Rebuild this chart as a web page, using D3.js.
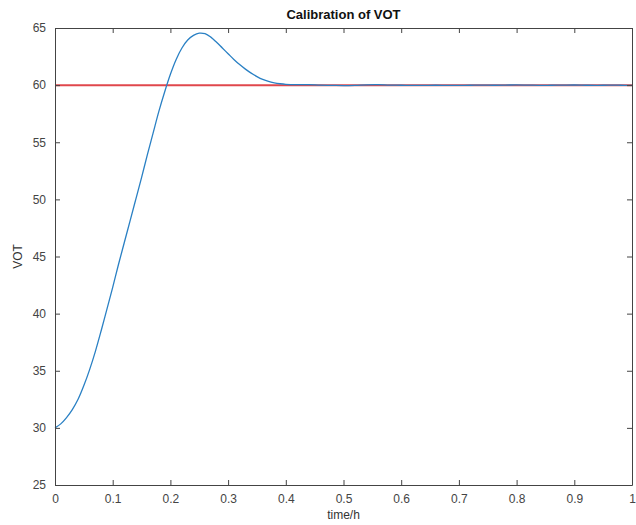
<!DOCTYPE html>
<html><head><meta charset="utf-8">
<script src="https://cdn.jsdelivr.net/npm/d3@7"></script>
<style>body{margin:0;background:#fff;}svg{display:block;}text{font-family:"Liberation Sans",Arial,sans-serif;}</style>
</head><body>
<script>
const timeH = [0,0.01,0.02,0.03,0.04,0.05,0.06,0.07,0.08,0.09,0.10,0.11,0.12,0.13,0.14,0.15,0.16,0.17,0.18,0.19,0.20,0.21,0.22,0.23,0.24,0.25,0.26,0.27,0.28,0.29,0.30,0.31,0.32,0.33,0.34,0.35,0.36,0.37,0.38,0.39,0.40,0.42,0.44,0.46,0.48,0.50,0.52,0.54,0.56,0.58,0.60,0.62,0.64,0.66,0.68,0.70,0.72,0.74,0.76,0.78,0.80,0.82,0.84,0.86,0.88,0.90,0.92,0.94,0.96,0.98,1.00];
const vot = [30.0,30.35,30.9,31.6,32.5,33.7,35.1,36.7,38.5,40.4,42.3,44.3,46.2,48.1,50.0,51.9,53.9,55.8,57.7,59.4,60.95,62.25,63.25,63.95,64.35,64.55,64.5,64.2,63.75,63.25,62.75,62.25,61.8,61.4,61.05,60.75,60.5,60.32,60.2,60.12,60.07,60.04,60.04,60.0,59.98,59.96,59.98,60.03,60.04,60.0,59.99,59.97,59.98,59.99,59.98,59.98,59.99,60.0,59.99,60.0,60.02,60.0,59.98,59.99,60.0,60.01,59.99,59.98,60.0,59.99,59.97];
const refValue = 60;
const xTicks = [0,0.1,0.2,0.3,0.4,0.5,0.6,0.7,0.8,0.9,1];
const yTicks = [25,30,35,40,45,50,55,60,65];

const W=636,H=525;
const L=55,R=632,T=28,B=485;
const svg=d3.select("body").append("svg").attr("width",W).attr("height",H);
const x=d3.scaleLinear().domain([0,1]).range([L,R]);
const y=d3.scaleLinear().domain([25,65]).range([B,T]);
const axisColor="#444";
const fmt=d=>String(d);

svg.append("line").attr("x1",x(0)).attr("x2",x(1)).attr("y1",y(refValue)).attr("y2",y(refValue))
  .attr("stroke","#e0474c").attr("stroke-width",2);
svg.append("path").datum(timeH.map((t,i)=>[t,vot[i]]))
  .attr("d",d3.line().x(d=>x(d[0])).y(d=>y(d[1])).curve(d3.curveCatmullRom.alpha(0.5)))
  .attr("fill","none").attr("stroke","#2a80c4").attr("stroke-width",1.3);

function style(g){
  g.select(".domain").attr("stroke",axisColor);
  g.selectAll(".tick line").attr("stroke",axisColor);
  g.selectAll(".tick text").attr("fill","#444").attr("font-size","12px");
}
const bx=svg.append("g").attr("transform",`translate(0,${B})`)
 .call(d3.axisBottom(x).tickValues(xTicks).tickFormat(fmt).tickSizeInner(-5).tickSizeOuter(0).tickPadding(9));
style(bx);
const tx=svg.append("g").attr("transform",`translate(0,${T})`)
 .call(d3.axisTop(x).tickValues(xTicks).tickFormat("").tickSizeInner(-5).tickSizeOuter(0));
style(tx);
const ly=svg.append("g").attr("transform",`translate(${L},0)`)
 .call(d3.axisLeft(y).tickValues(yTicks).tickSizeInner(-5).tickSizeOuter(0).tickPadding(9));
style(ly);
const ry=svg.append("g").attr("transform",`translate(${R},0)`)
 .call(d3.axisRight(y).tickValues(yTicks).tickFormat("").tickSizeInner(-5).tickSizeOuter(0));
style(ry);

svg.append("text").attr("x",(L+R)/2).attr("y",19).attr("text-anchor","middle")
 .attr("font-size","13px").attr("font-weight","bold").attr("fill","#111").text("Calibration of VOT");
svg.append("text").attr("x",(L+R)/2).attr("y",519).attr("text-anchor","middle")
 .attr("font-size","12px").attr("fill","#333").text("time/h");
svg.append("text").attr("transform",`translate(22,${(T+B)/2}) rotate(-90)`).attr("text-anchor","middle")
 .attr("font-size","12px").attr("fill","#333").text("VOT");
</script>
</body></html>
